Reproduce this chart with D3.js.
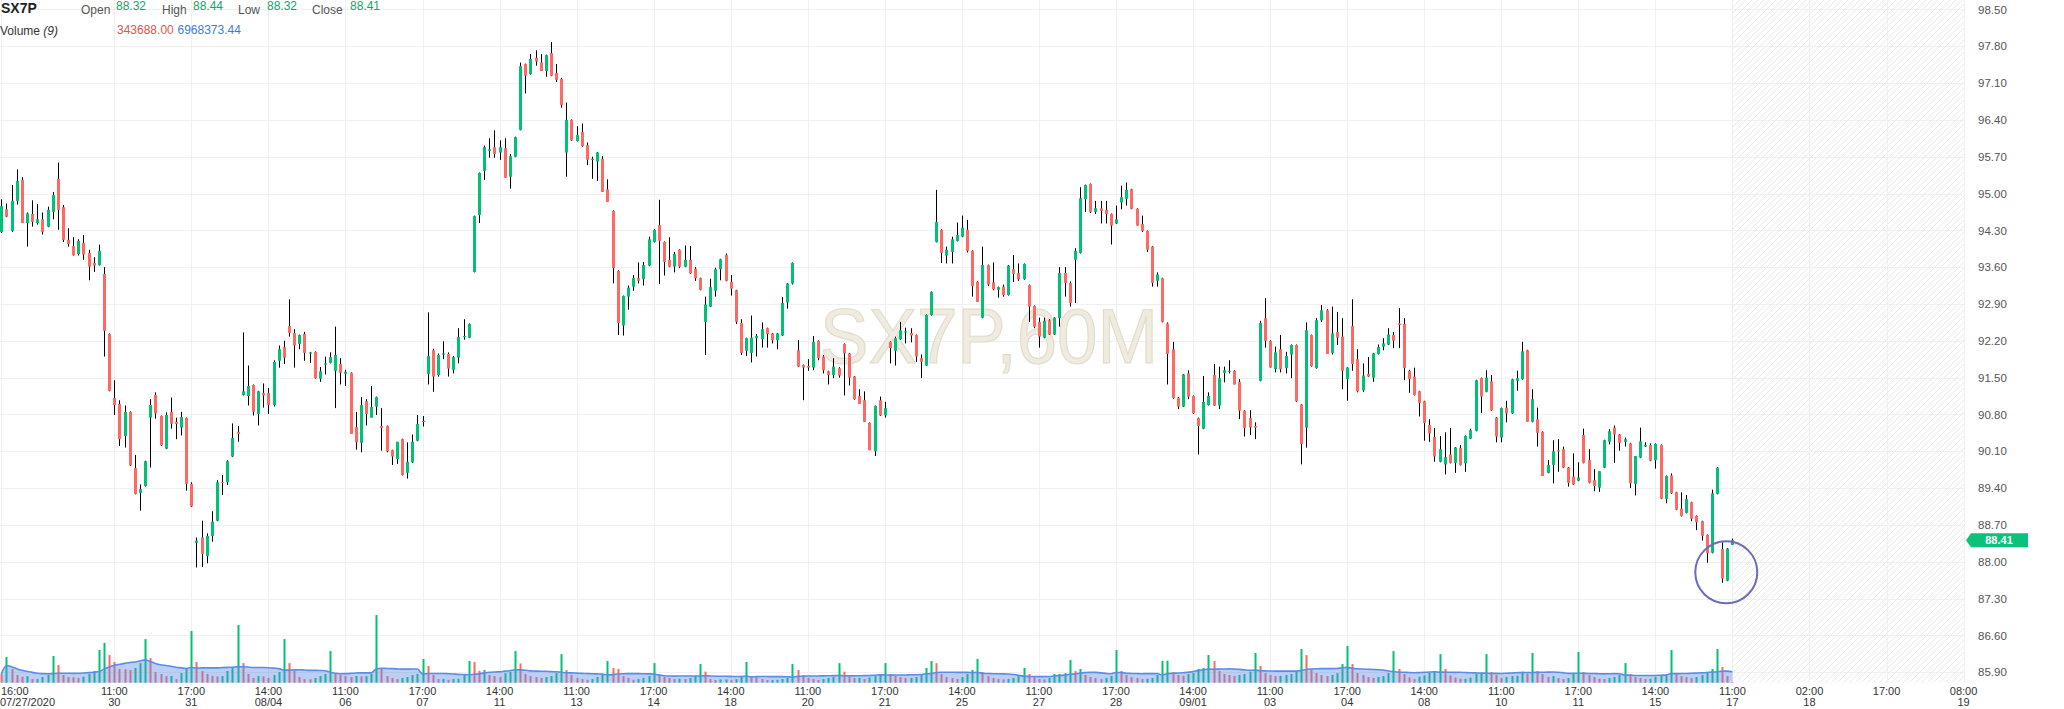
<!DOCTYPE html>
<html><head><meta charset="utf-8">
<script src="https://cdn.jsdelivr.net/npm/d3@7"></script>
<style>html,body{margin:0;padding:0;background:#fff;}svg{display:block;font-family:"Liberation Sans",Arial,sans-serif;}</style>
</head><body><svg id="c" width="2064" height="709"></svg>
<script>
// ---------- DATA (hourly candles 07/27/2020 16:00 -> 09/17/2020 11:00) ----------
const openP = [94.27,94.70,94.29,94.86,95.26,94.44,94.61,94.44,94.51,94.37,
94.65,95.28,94.74,94.12,94.00,93.85,94.06,93.87,93.68,93.64,
93.47,92.33,91.11,91.00,90.39,90.85,89.78,89.31,89.44,90.74,
91.17,90.77,90.15,90.85,90.66,90.55,90.73,89.48,88.36,88.46,
88.11,88.49,88.78,89.52,89.51,90.00,90.47,91.17,91.15,91.36,
90.81,91.21,91.21,90.98,91.82,92.08,92.48,92.35,92.14,92.33,
91.97,91.99,91.48,91.76,91.78,91.63,91.76,91.57,91.59,90.56,
90.26,91.05,90.74,90.95,90.58,90.58,90.12,89.95,90.33,89.69,
89.89,90.30,90.66,91.57,92.02,91.55,91.95,91.95,91.65,91.88,
92.28,92.26,93.51,94.59,95.43,95.81,95.88,95.78,95.86,95.32,
95.70,96.21,97.46,97.27,97.58,97.49,97.33,97.67,97.29,97.18,
95.78,96.40,96.00,96.17,95.92,95.65,95.61,95.66,95.08,94.67,
93.53,92.49,93.04,93.23,93.39,93.37,93.63,94.08,94.40,94.08,
93.74,93.61,93.93,93.61,93.74,93.57,93.39,92.56,92.85,93.15,
93.56,93.83,93.32,93.16,92.54,92.01,91.97,92.25,92.23,92.44,
92.34,92.21,92.30,92.93,93.29,92.02,91.74,91.72,91.69,92.20,
91.90,91.62,91.55,91.68,92.14,91.96,91.52,91.15,91.07,90.64,
90.10,91.07,90.78,92.18,92.01,92.23,92.37,92.35,92.31,91.87,
91.73,92.69,94.08,94.31,93.82,93.89,94.10,94.18,94.31,93.91,
93.32,92.64,93.64,93.31,93.17,93.23,93.07,93.56,93.49,93.37,
93.26,92.86,92.56,92.26,92.59,92.32,92.63,93.49,93.30,93.74,
93.87,94.89,95.18,94.65,94.72,94.69,94.61,94.43,94.83,94.90,
95.08,94.71,94.42,94.29,93.99,93.34,93.39,92.53,92.04,91.12,
90.95,91.58,91.15,90.73,90.53,90.98,91.55,90.97,91.59,91.62,
91.63,91.42,90.87,90.73,90.58,91.44,92.63,92.20,91.66,92.04,
91.68,91.94,92.12,90.99,90.55,92.31,91.68,92.59,92.78,91.97,
92.37,92.28,91.47,92.48,91.85,91.26,91.57,91.50,91.95,92.09,
92.13,92.31,92.53,92.52,91.63,91.52,91.24,91.05,90.60,90.37,
89.90,89.85,90.04,89.88,90.16,89.87,90.34,90.49,91.49,91.23,
91.43,90.74,90.36,90.93,90.82,91.44,91.47,92.02,90.66,90.71,
90.47,89.69,89.84,90.12,90.14,89.79,89.62,89.54,90.41,89.93,
89.55,89.41,89.79,90.28,90.55,90.42,90.28,90.25,89.48,89.98,
90.19,90.22,89.93,90.22,89.19,89.64,89.32,89.01,88.93,89.13,
88.87,88.77,88.51,88.17,89.29,88.24,87.64,88.32];
const highP = [94.89,94.81,95.16,95.46,95.31,94.64,94.87,94.80,94.64,94.75,
95.03,95.59,94.78,94.34,94.17,94.13,94.21,93.93,93.79,94.03,
93.60,92.34,91.45,91.07,90.97,90.86,90.03,89.47,89.92,91.09,
91.22,90.78,90.84,91.12,90.74,90.85,90.74,89.51,88.46,88.78,
88.54,88.96,89.55,89.65,89.93,90.63,90.58,92.36,91.73,91.37,
91.25,91.39,91.30,91.83,92.11,92.20,92.99,92.42,92.32,92.37,
91.99,92.00,91.70,91.90,91.98,92.47,91.87,91.65,91.60,90.85,
91.13,91.09,91.34,91.14,90.92,90.59,90.13,90.28,90.34,90.27,
90.42,90.79,90.77,92.74,92.05,91.96,92.19,91.98,91.91,92.44,
92.61,92.53,94.58,95.40,95.91,96.05,96.20,96.01,96.05,95.75,
96.08,97.49,97.47,97.65,97.72,97.65,97.64,97.88,97.46,97.20,
96.73,96.41,96.28,96.33,95.97,95.70,95.79,95.71,95.27,94.68,
93.54,93.06,93.25,93.45,93.69,93.70,94.18,94.32,94.88,94.09,
94.17,93.89,93.94,94.01,94.00,93.60,93.40,93.04,93.38,93.59,
93.76,93.86,93.45,93.17,92.61,92.26,92.68,92.33,92.55,92.45,
92.35,92.35,93.03,93.30,93.69,92.21,91.75,91.85,92.29,92.21,
91.93,91.63,91.87,91.70,92.15,91.97,91.53,91.28,91.24,90.65,
90.97,91.14,91.04,92.19,92.28,92.56,92.45,92.44,92.32,91.94,
92.70,93.14,95.07,94.32,93.99,94.18,94.45,94.58,94.50,93.92,
93.33,93.99,93.65,93.69,93.23,93.27,93.64,93.83,93.67,93.67,
93.27,92.87,92.64,92.64,92.61,92.65,93.60,93.60,93.33,93.96,
95.12,95.17,95.19,94.86,94.86,94.86,94.62,94.77,95.15,95.21,
95.09,94.72,94.58,94.30,94.00,93.50,93.40,92.55,92.18,91.13,
91.57,91.64,91.16,90.74,91.53,91.22,91.76,91.71,91.71,91.83,
91.64,91.47,90.88,90.88,90.65,92.58,93.01,92.21,92.09,92.31,
91.99,92.13,92.13,91.00,92.55,92.32,92.63,92.88,92.80,92.85,
92.75,92.63,91.70,92.99,92.04,91.77,91.89,91.97,92.13,92.25,
92.44,92.37,92.82,92.63,91.65,91.69,91.25,91.06,90.71,90.54,
90.39,90.46,90.54,90.18,90.22,90.40,90.53,91.46,91.50,91.64,
91.55,90.75,90.93,91.06,91.48,91.63,92.18,92.03,91.28,90.93,
90.48,89.93,90.31,90.33,90.19,89.80,90.06,89.89,90.53,90.14,
89.76,89.72,90.32,90.52,90.59,90.43,90.36,90.26,90.01,90.55,
90.27,90.25,90.25,90.23,89.64,89.68,89.33,89.32,89.27,89.14,
88.88,88.78,88.52,89.37,89.80,88.37,88.26,88.44];
const lowP = [94.25,94.55,94.27,94.79,94.44,93.99,94.37,94.41,94.22,94.36,
94.51,94.31,94.08,93.99,93.82,93.82,93.74,93.35,93.51,93.63,
91.90,91.24,90.79,90.20,90.17,89.82,89.28,88.97,89.43,89.79,
90.72,90.20,90.14,90.53,90.33,90.40,89.35,89.04,87.89,87.90,
87.97,88.38,88.77,89.27,89.46,89.99,90.28,91.16,90.97,90.78,
90.59,90.93,90.81,90.95,91.69,91.76,92.28,91.69,92.04,91.82,
91.78,91.48,91.42,91.56,91.77,90.92,91.37,91.34,90.43,90.13,
90.08,90.59,90.74,90.79,90.11,90.08,89.84,89.86,89.64,89.58,
89.88,90.29,90.57,91.37,91.23,91.52,91.85,91.52,91.58,91.77,
92.22,92.25,93.50,94.44,95.26,95.68,95.68,95.64,95.30,95.09,
95.69,96.20,96.90,97.26,97.43,97.33,97.22,97.23,97.12,96.63,
95.32,96.00,95.99,95.89,95.54,95.28,95.24,95.03,94.84,93.29,
92.31,92.30,92.79,93.15,93.29,93.25,93.62,94.07,93.28,93.44,
93.60,93.50,93.58,93.60,93.47,93.34,93.16,91.93,92.84,93.04,
93.35,93.33,93.06,92.52,91.93,91.91,91.79,91.90,92.07,92.07,
92.15,92.04,92.29,92.81,93.27,91.70,91.07,91.63,91.64,91.83,
91.58,91.37,91.49,91.50,91.16,91.35,91.08,91.00,90.66,90.12,
90.01,90.77,90.74,91.77,91.73,92.22,92.15,92.17,91.80,91.49,
91.72,92.68,94.07,93.68,93.67,93.67,94.09,94.17,93.88,93.04,
92.94,92.63,93.24,93.16,93.02,93.04,93.06,93.32,93.34,93.36,
92.56,92.44,92.07,92.25,92.31,92.31,92.47,93.04,92.85,92.92,
93.86,94.65,94.63,94.61,94.43,94.43,94.03,94.42,94.70,94.77,
94.70,94.39,94.27,93.89,93.23,93.23,92.55,91.37,91.10,90.90,
90.94,91.09,90.81,90.04,90.52,90.97,90.96,90.90,91.41,91.58,
91.37,90.71,90.38,90.41,90.33,91.43,92.07,91.69,91.60,91.60,
91.58,91.49,91.04,89.85,90.17,91.71,91.67,92.56,91.95,91.94,
92.12,91.28,91.06,91.63,91.22,91.23,91.51,91.42,91.94,92.02,
92.12,92.06,92.06,91.45,91.21,91.16,90.76,90.30,90.28,89.90,
89.89,89.66,89.87,89.69,89.83,89.71,90.33,90.48,90.83,91.22,
90.87,90.27,90.27,90.65,90.81,91.25,91.46,90.66,90.65,90.19,
89.63,89.68,89.49,89.71,89.78,89.43,89.46,89.53,89.87,89.49,
89.34,89.33,89.78,90.23,89.88,90.11,90.19,89.40,89.26,89.97,
90.18,89.91,89.77,89.19,89.11,89.29,88.98,88.86,88.92,88.77,
88.60,88.40,87.98,88.16,89.28,87.60,87.63,88.32];
const closeP = [94.76,94.56,94.86,95.24,94.44,94.62,94.46,94.51,94.27,94.69,
94.97,94.69,94.12,94.04,93.83,94.10,93.84,93.61,93.63,93.91,
92.39,91.25,90.98,90.33,90.85,89.83,89.29,89.38,89.91,90.98,
90.82,90.21,90.79,90.62,90.62,90.75,89.48,89.05,88.40,88.15,
88.49,88.76,89.51,89.50,89.91,90.35,90.43,91.24,91.34,90.85,
91.24,91.16,90.98,91.80,92.04,91.88,92.35,92.11,92.31,91.97,
91.98,91.49,91.62,91.77,91.89,91.93,91.59,91.61,90.43,90.27,
90.98,90.81,90.94,91.13,90.54,90.10,90.00,90.28,89.65,89.90,
90.28,90.62,90.68,91.91,91.52,91.93,91.96,91.67,91.89,92.27,
92.29,92.52,94.57,95.39,95.88,95.84,95.75,95.88,95.30,95.71,
96.07,97.42,97.24,97.56,97.51,97.33,97.63,97.24,97.16,96.68,
96.40,96.01,96.11,95.90,95.64,95.66,95.78,95.03,94.84,93.58,
92.54,93.05,93.21,93.39,93.34,93.64,94.13,94.31,94.10,93.70,
93.61,93.85,93.61,93.74,93.48,93.39,93.17,92.89,93.22,93.56,
93.75,93.34,93.19,92.56,91.97,92.25,92.26,92.29,92.42,92.33,
92.21,92.34,92.92,93.29,93.68,91.71,91.69,91.69,92.18,91.87,
91.64,91.55,91.71,91.54,91.96,91.50,91.09,91.00,90.66,90.12,
90.96,90.78,90.92,92.06,92.25,92.40,92.38,92.30,91.90,91.80,
92.69,93.13,94.46,93.87,93.93,94.13,94.21,94.35,93.91,93.24,
92.94,93.64,93.27,93.18,93.22,93.07,93.63,93.47,93.37,93.66,
92.85,92.47,92.28,92.58,92.32,92.64,93.49,93.30,92.92,93.91,
94.91,95.16,94.65,94.72,94.67,94.61,94.39,94.51,94.93,95.07,
94.71,94.39,94.29,93.93,93.30,93.46,92.56,91.95,91.11,90.95,
91.56,91.14,90.82,90.58,91.04,91.15,90.97,91.49,91.64,91.63,
91.37,90.87,90.54,90.55,90.55,92.54,92.20,91.69,91.98,91.66,
91.91,92.12,91.05,90.24,92.40,91.72,92.59,92.78,91.95,92.34,
92.26,91.63,91.69,91.76,91.24,91.54,91.52,91.96,92.08,92.15,
92.32,92.20,92.50,91.68,91.47,91.17,91.02,90.64,90.44,90.00,
90.14,89.99,89.88,90.17,89.84,90.39,90.50,91.45,91.14,91.50,
90.88,90.38,90.92,90.82,91.47,91.49,92.00,90.66,91.09,90.45,
89.63,89.84,90.10,90.10,89.79,89.50,89.47,89.60,89.88,89.50,
89.44,89.72,90.31,90.48,90.42,90.26,90.33,89.49,90.01,90.29,
90.22,89.92,90.24,89.20,89.63,89.30,88.99,88.87,89.19,88.82,
88.75,88.49,88.16,89.30,89.79,87.68,88.25,88.41];
// volume in millions
const volumeM = [5.5,16.2,8.7,4.9,3.8,4.2,2.3,2.3,3.6,4.9,
16.9,11.2,4.9,3.6,3.4,3.0,3.8,5.5,7.4,20.7,
25.1,17.5,13.1,8.7,8.5,8.0,9.3,12.4,27.6,15.6,
6.8,5.5,4.2,4.3,2.3,6.1,8.7,32.7,13.1,7.4,
5.5,4.4,4.0,4.2,7.4,9.3,36.5,12.4,5.5,3.0,
4.2,4.0,3.0,4.9,6.8,27.6,12.4,7.4,3.6,2.3,
2.2,3.0,4.2,5.5,20.0,5.5,4.9,4.2,3.6,4.2,
4.0,4.1,5.5,42.8,8.7,4.2,3.0,2.3,3.0,3.6,
4.9,5.5,15.0,10.6,4.9,2.3,2.4,1.8,2.3,2.5,
4.9,13.7,13.1,7.4,8.0,4.9,4.2,3.6,6.1,6.8,
20.0,12.2,5.5,4.2,3.6,3.0,3.6,4.2,6.1,18.1,
8.0,4.9,3.0,2.3,1.8,2.3,3.6,4.9,13.7,9.3,
8.7,4.2,3.0,1.8,2.3,3.0,4.2,12.4,4.9,3.6,
3.0,2.3,2.5,2.3,3.0,4.2,11.8,7.0,2.3,1.7,
2.1,2.1,1.7,2.3,4.2,13.1,4.2,3.4,2.3,1.7,
1.7,1.8,2.3,3.0,11.8,8.0,4.6,3.0,2.3,1.7,
2.3,3.0,3.6,12.4,7.0,3.6,3.0,3.1,2.3,3.4,
4.2,5.5,12.4,5.5,4.2,3.6,3.0,3.1,3.6,5.5,
9.3,13.7,12.4,5.5,3.6,3.0,2.3,3.6,5.5,8.0,
15.0,6.8,4.2,3.0,2.3,2.1,2.3,3.0,4.2,9.3,
5.5,3.6,2.3,2.1,3.0,5.5,5.6,6.1,14.3,7.4,
8.7,4.9,3.6,3.0,2.3,3.0,4.2,20.7,7.4,4.9,
3.6,3.0,2.3,2.5,3.0,4.9,13.7,13.9,6.8,4.9,
4.4,5.5,6.1,8.7,9.3,17.5,13.7,7.4,5.5,4.9,
4.2,4.9,5.5,6.8,18.8,10.6,6.1,4.9,4.2,4.3,
4.9,5.5,6.8,21.3,17.5,8.7,6.1,4.9,4.2,4.9,
6.1,11.8,23.2,11.8,6.1,4.9,3.6,3.0,3.6,4.2,
6.1,20.0,8.7,5.5,3.4,2.3,3.8,4.6,6.3,7.4,
18.1,8.7,4.6,3.2,2.5,2.5,3.2,5.5,6.3,18.1,
6.8,4.9,3.0,3.6,4.2,4.4,7.0,5.5,18.8,7.4,
5.5,3.6,4.2,3.0,2.3,3.0,5.5,19.4,6.8,4.9,
3.6,2.5,2.3,3.0,3.6,4.9,12.4,5.5,3.6,3.0,
2.3,2.5,3.6,4.9,5.5,20.7,5.5,4.2,3.6,3.0,
3.6,4.9,6.8,8.7,21.3,9.9,4.2,0.343688];
const priceTicks = [85.90,86.60,87.30,88.00,88.70,89.40,90.10,90.80,91.50,92.20,92.90,93.60,94.30,95.00,95.70,96.40,97.10,97.80,98.50];
const timeTickIndex = [0,22,37,52,67,82,97,112,127,142,157,172,187,202,217,232,247,262,277,292,307,322,337,352,367,382];
const timeTickTime = ["16:00","11:00","17:00","14:00","11:00","17:00","14:00","11:00","17:00","14:00","11:00","17:00","14:00","11:00","17:00","14:00","11:00","17:00","14:00","11:00","17:00","14:00","11:00","02:00","17:00","08:00"];
const timeTickDate = ["07/27/2020","30","31","08/04","06","07","11","13","14","18","20","21","25","27","28","09/01","03","04","08","10","11","15","17","18","","19"];
const maPeriod = 9;
const legendOHLC = [["Open","88.32"],["High","88.44"],["Low","88.32"],["Close","88.41"]];
const legendVolume = ["343688.00","6968373.44"];
const lastPrice = 88.41;

// ---------- LAYOUT ----------
const svg = d3.select("#c");
const plotRight = 1965, plotBottom = 682.7;
const UP = "#00c176", DOWN = "#ff6961";
const n = openP.length;
const x = d3.scaleLinear().domain([0, 382]).range([1.29, 1963.6]);
const y = d3.scaleLinear().domain([85.9, 98.5]).range([672.2, 9.4]);
const vy = d3.scaleLinear().domain([0, 60]).range([plotBottom, plotBottom - 94.8]);

const defs = svg.append("defs");
const pat = defs.append("pattern").attr("id","hatch").attr("patternUnits","userSpaceOnUse").attr("width",6).attr("height",6);
pat.append("path").attr("d","M0,6 L6,0 M-1.5,1.5 L1.5,-1.5 M4.5,7.5 L7.5,4.5").attr("stroke","#e9e9e9").attr("stroke-width",1);

// future hatch region
svg.append("rect").attr("x", x(n-1)).attr("y",0).attr("width", plotRight - x(n-1)).attr("height", plotBottom).attr("fill","url(#hatch)");

// grid
const grid = svg.append("g").attr("stroke","#f0f0f0").attr("stroke-width",1);
grid.selectAll("line.h").data(priceTicks).join("line").attr("class","h")
  .attr("x1",0).attr("x2",plotRight).attr("y1",d=>Math.round(y(d))+0.5).attr("y2",d=>Math.round(y(d))+0.5);
grid.selectAll("line.v").data(timeTickIndex).join("line").attr("class","v")
  .attr("x1",d=>Math.round(x(d))+0.5).attr("x2",d=>Math.round(x(d))+0.5).attr("y1",0).attr("y2",plotBottom);

// watermark
svg.append("text").attr("x",989).attr("y",363).attr("text-anchor","middle")
  .attr("font-size",78).attr("textLength",338).attr("lengthAdjust","spacingAndGlyphs")
  .attr("fill","#efebe1").attr("stroke","#e2dcca").attr("stroke-width",1.2)
  .text("SX7P,60M");

// volume bars
const idx = d3.range(n);
const vol = svg.append("g");
vol.selectAll("rect").data(idx).join("rect")
  .attr("x", i=>Math.round(x(i))-0.5).attr("width",2)
  .attr("y", i=>vy(volumeM[i])).attr("height", i=>plotBottom - vy(volumeM[i]))
  .attr("fill", i=> (i>0 && volumeM[i] >= volumeM[i-1]) ? UP : DOWN);

// volume MA (9)
const ma = idx.map(i=>{const s=Math.max(0,i-maPeriod+1); return d3.mean(volumeM.slice(s,i+1));});
svg.append("path").datum(idx)
  .attr("d", d3.area().x(i=>x(i)).y0(plotBottom).y1(i=>vy(ma[i])).curve(d3.curveMonotoneX))
  .attr("fill","rgba(92,140,232,0.42)");
svg.append("path").datum(idx)
  .attr("d", d3.line().x(i=>x(i)).y(i=>vy(ma[i])).curve(d3.curveMonotoneX))
  .attr("fill","none").attr("stroke","#5b8de6").attr("stroke-width",1.6);

// candles
const cg = svg.append("g");
cg.selectAll("line").data(idx).join("line")
  .attr("x1",i=>Math.round(x(i))+0.5).attr("x2",i=>Math.round(x(i))+0.5)
  .attr("y1",i=>y(highP[i])).attr("y2",i=>y(lowP[i]))
  .attr("stroke","#000").attr("stroke-width",1);
cg.selectAll("rect").data(idx).join("rect")
  .attr("x",i=>Math.round(x(i))-1).attr("width",3)
  .attr("y",i=>y(Math.max(openP[i],closeP[i])))
  .attr("height",i=>Math.max(1.2, Math.abs(y(openP[i])-y(closeP[i]))))
  .attr("fill",i=> closeP[i] >= openP[i] ? UP : DOWN);

// annotation circle around the last candles
svg.append("circle").attr("cx", x(335.8)).attr("cy", y(87.80)).attr("r",31)
  .attr("fill","none").attr("stroke","#6c6cbc").attr("stroke-width",2);

// price axis (right)
const ay = svg.append("g").attr("transform","translate(1975,0)")
  .call(d3.axisRight(y).tickValues(priceTicks).tickFormat(d3.format(".2f")).tickSize(0).tickPadding(3));
ay.select(".domain").remove();
ay.selectAll("text").attr("font-size",11.5).attr("fill","#555").attr("font-family","Liberation Sans, Arial, sans-serif");

// last price tag
const ty = y(lastPrice);
svg.append("path").attr("d",`M1966,${ty} L1971,${ty-7} L2028,${ty-7} L2028,${ty+7} L1971,${ty+7} Z`).attr("fill","#0bc27a");
svg.append("text").attr("x",1999).attr("y",ty+4).attr("text-anchor","middle").attr("font-size",11).attr("font-weight","bold").attr("fill","#fff").text(lastPrice.toFixed(2));

// time axis
const tx = svg.append("g").attr("font-size",11).attr("fill","#333");
timeTickIndex.forEach((ti,k)=>{
  const first = k===0;
  const px = first ? 1 : x(ti);
  const anchor = first ? "start" : "middle";
  tx.append("text").attr("x",px).attr("y",695).attr("text-anchor",anchor).text(timeTickTime[k]);
  if (timeTickDate[k]) tx.append("text").attr("x",first?0:px).attr("y",706).attr("text-anchor",anchor).text(timeTickDate[k]);
});

// header legend
const hd = svg.append("g");
hd.append("text").attr("x",1).attr("y",13).attr("font-size",14).attr("font-weight","bold").attr("fill","#222").text("SX7P");
const lx = [[81,116],[162,193],[238,267],[312,350]];
legendOHLC.forEach((d,k)=>{
  hd.append("text").attr("x",lx[k][0]).attr("y",13.5).attr("font-size",12).attr("fill","#555").text(d[0]);
  hd.append("text").attr("x",lx[k][1]).attr("y",10).attr("font-size",12).attr("fill","#0aa86b").text(d[1]);
});
const vt = hd.append("text").attr("x",0).attr("y",35).attr("font-size",12).attr("fill","#333");
vt.append("tspan").text("Volume ");
vt.append("tspan").attr("font-style","italic").text("(9)");
hd.append("text").attr("x",117).attr("y",34).attr("font-size",12).attr("fill","#e5534b").text(legendVolume[0]);
hd.append("text").attr("x",177.5).attr("y",34).attr("font-size",12).attr("fill","#3b7ddd").text(legendVolume[1]);
</script>
</body></html>
